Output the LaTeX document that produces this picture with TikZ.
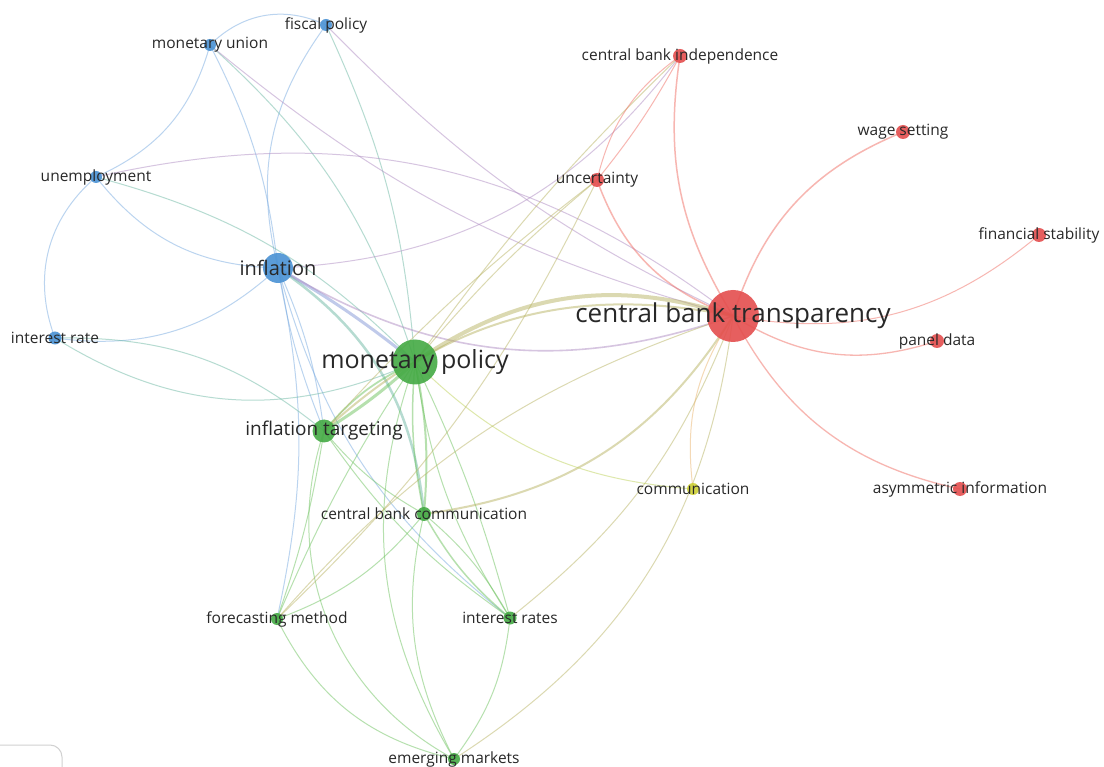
\documentclass[tikz,border=0pt]{standalone}
\usepackage{fontspec}
\setmainfont{Open Sans}
\definecolor{nblue}{RGB}{74,146,212}
\definecolor{ngreen}{RGB}{68,170,68}
\definecolor{nred}{RGB}{228,78,78}
\definecolor{nyellow}{RGB}{206,208,52}
\definecolor{eblue}{RGB}{120,170,225}
\definecolor{egreen}{RGB}{110,195,95}
\definecolor{ered}{RGB}{240,110,100}
\definecolor{epurple}{RGB}{175,140,195}
\definecolor{eolive}{RGB}{185,180,100}
\definecolor{eteal}{RGB}{110,185,165}
\definecolor{eyg}{RGB}{190,210,90}
\definecolor{eorange}{RGB}{235,180,110}
\definecolor{elav}{RGB}{130,150,215}
\definecolor{txt}{RGB}{40,40,40}
\tikzset{
  e/.style={line width=1pt, draw opacity=0.5},
  eB/.style={e, draw=eblue},
  eG/.style={e, draw=egreen},
  eR/.style={e, draw=ered},
  eP/.style={e, draw=epurple},
  eO/.style={e, draw=eolive},
  eT/.style={e, draw=eteal},
  eL/.style={e, draw=elav},
  eY/.style={e, draw=eyg},
  eRY/.style={e, draw=eorange},
  dot/.style={circle, inner sep=0pt, fill opacity=0.9, draw=none},
  lbl/.style={text=txt, inner sep=0pt, font=\fontsize{15.5}{16}\selectfont},
}
\begin{document}
\begin{tikzpicture}[x=1pt,y=1pt]
\useasboundingbox (0,-767) rectangle (1104,0);
\fill[white] (0,-767) rectangle (1104,0);
% node positions
\coordinate (fp) at (326,-25);
\coordinate (mu) at (210,-45);
\coordinate (un) at (96,-177);
\coordinate (inf) at (278,-268);
\coordinate (ir) at (55,-338);
\coordinate (mp) at (415,-362);
\coordinate (it) at (324,-431);
\coordinate (cbc) at (424,-514);
\coordinate (fm) at (277,-619);
\coordinate (irs) at (510,-618);
\coordinate (em) at (454,-759);
\coordinate (cbi) at (680,-56);
\coordinate (unc) at (597,-180);
\coordinate (ws) at (903,-132);
\coordinate (fs) at (1039,-235);
\coordinate (cbt) at (733,-316);
\coordinate (pd) at (937,-341);
\coordinate (comm) at (693,-489);
\coordinate (ai) at (960,-489);
% ---- blue edges
\draw[eB] (mu) to[bend left=35] (fp);
\draw[eB] (mu) to[bend left=25] (un);
\draw[eB] (mu) to[bend left=10] (inf);
\draw[eB] (fp) to[bend right=25] (inf);
\draw[eB] (un) to[bend right=25] (inf);
\draw[eB] (un) to[bend right=35] (ir);
\draw[eB] (ir) to[bend right=25] (inf);
\draw[eB] (inf) to[bend right=6] (it);
\draw[eB] (inf) to[bend left=8] (it);
\draw[eB] (inf) to[bend left=12] (fm);
\draw[eB] (inf) to[bend right=18] (irs);
% ---- blue-green
\draw[eL, line width=3pt] (inf) to[bend left=4] (mp);
\draw[eT, line width=2.5pt] (inf) to[bend left=25] (cbc);
\draw[eT] (un) to[bend left=15] (mp);
\draw[eT] (ir) to[bend right=28] (mp);
\draw[eT] (ir) to[bend left=20] (it);
\draw[eT] (mu) to[bend left=15] (mp);
\draw[eT] (fp) to[bend left=10] (mp);
% ---- blue-red
\draw[eP] (un) to[bend left=25] (cbt);
\draw[eP] (mu) to[bend right=12] (cbt);
\draw[eP] (fp) to[bend right=10] (cbt);
\draw[eP, line width=1.6pt] (inf) to[bend right=25] (cbt);
\draw[eP] (inf) to[bend right=25] (cbi);
% ---- green
\draw[eG, line width=3pt] (mp) to[bend left=5] (it);
\draw[eG, line width=1.8pt] (mp) to[bend right=12] (it);
\draw[eG, line width=2pt] (mp) to[bend left=8] (cbc);
\draw[eG, line width=1.5pt] (mp) to[bend right=8] (cbc);
\draw[eG] (mp) to[bend right=5] (fm);
\draw[eG] (mp) to[bend left=5] (irs);
\draw[eG] (mp) to[bend right=12] (irs);
\draw[eG] (mp) to[bend right=25] (em);
\draw[eG] (it) to[bend left=5] (fm);
\draw[eG] (it) to[bend right=10] (cbc);
\draw[eG] (it) to[bend right=10] (irs);
\draw[eG] (it) to[bend right=40] (em);
\draw[eG] (cbc) to[bend left=15] (fm);
\draw[eG, line width=1.5pt] (cbc) to[bend right=10] (irs);
\draw[eG] (cbc) to[bend left=10] (irs);
\draw[eG] (cbc) to[bend right=20] (em);
\draw[eG] (fm) to[bend right=25] (em);
\draw[eG] (irs) to[bend left=15] (em);
% ---- green-red
\draw[eO, line width=4pt] (mp) to[bend left=26] (cbt);
\draw[eO, line width=2pt] (it) to[bend left=27] (cbt);
\draw[eO, line width=2pt] (cbc) to[bend right=25] (cbt);
\draw[eO] (irs) to[bend right=15] (cbt);
\draw[eO] (em) to[bend right=25] (cbt);
\draw[eO] (unc) to[bend right=5] (mp);
\draw[eO] (unc) to[bend right=5] (it);
\draw[eO] (unc) to[bend left=10] (fm);
\draw[eO] (cbi) to[bend right=5] (mp);
\draw[eO] (cbt) to[bend right=15] (fm);
% ---- green-yellow
\draw[eY] (mp) to[bend right=20] (comm);
% ---- red
\draw[eR, line width=1.5pt] (cbi) to[bend right=20] (cbt);
\draw[eR] (cbi) to[bend right=20] (unc);
\draw[eR] (cbi) to[bend left=5] (unc);
\draw[eR, line width=1.5pt] (unc) to[bend right=25] (cbt);
\draw[eR, line width=1.5pt] (cbt) to[bend left=25] (ws);
\draw[eR] (cbt) to[bend right=25] (fs);
\draw[eR, line width=1.3pt] (cbt) to[bend right=25] (pd);
\draw[eR, line width=1.3pt] (cbt) to[bend right=25] (ai);
\draw[eRY] (comm) to[bend left=20] (cbt);
% ---- nodes
\node[dot, fill=nblue, minimum size=12pt] (fpn) at (fp) {};
\node[dot, fill=nblue, minimum size=12pt] (mun) at (mu) {};
\node[dot, fill=nblue, minimum size=12pt] (unn) at (un) {};
\node[dot, fill=nblue, minimum size=30pt] (infn) at (inf) {};
\node[dot, fill=nblue, minimum size=13pt] (irn) at (ir) {};
\node[dot, fill=ngreen, minimum size=45pt] (mpn) at (mp) {};
\node[dot, fill=ngreen, minimum size=23pt] (itn) at (it) {};
\node[dot, fill=ngreen, minimum size=14pt] (cbcn) at (cbc) {};
\node[dot, fill=ngreen, minimum size=12pt] (fmn) at (fm) {};
\node[dot, fill=ngreen, minimum size=13pt] (irsn) at (irs) {};
\node[dot, fill=ngreen, minimum size=12pt] (emn) at (em) {};
\node[dot, fill=nred, minimum size=14pt] (cbin) at (cbi) {};
\node[dot, fill=nred, minimum size=14pt] (uncn) at (unc) {};
\node[dot, fill=nred, minimum size=14pt] (wsn) at (ws) {};
\node[dot, fill=nred, minimum size=14pt] (fsn) at (fs) {};
\node[dot, fill=nred, minimum size=52pt] (cbtn) at (cbt) {};
\node[dot, fill=nred, minimum size=14pt] (pdn) at (pd) {};
\node[dot, fill=nyellow, minimum size=12pt] (commn) at (comm) {};
\node[dot, fill=nred, minimum size=14pt] (ain) at (ai) {};
% ---- labels
\node[lbl] (fpl) at (fp) {fiscal policy};
\node[lbl] (mul) at (mu) {monetary union};
\node[lbl] (unl) at (un) {unemployment};
\node[lbl, font=\fontsize{20}{20}\selectfont] (infl) at (inf) {inflation};
\node[lbl] (irl) at (ir) {interest rate};
\node[lbl, font=\fontsize{25}{25}\selectfont] (mpl) at (mp) {monetary policy};
\node[lbl, font=\fontsize{19}{19}\selectfont] (itl) at (it) {inflation targeting};
\node[lbl] (cbcl) at (cbc) {central bank communication};
\node[lbl] (fml) at (fm) {forecasting method};
\node[lbl] (irsl) at (irs) {interest rates};
\node[lbl] (eml) at (em) {emerging markets};
\node[lbl] (cbil) at (cbi) {central bank independence};
\node[lbl] (uncl) at (unc) {uncertainty};
\node[lbl] (wsl) at (ws) {wage setting};
\node[lbl] (fsl) at (fs) {financial stability};
\node[lbl, font=\fontsize{26}{26}\selectfont] (cbtl) at (cbt) {central bank transparency};
\node[lbl] (pdl) at (pd) {panel data};
\node[lbl] (comml) at (comm) {communication};
\node[lbl] (ail) at (ai) {asymmetric information};
% ---- corner box
\begin{scope}
\clip (0,-767) rectangle (1104,0);
\draw[black!18, line width=1pt, rounded corners=12pt] (-20,-745) -- (62,-745) -- (62,-790);
\end{scope}
\end{tikzpicture}
\end{document}
